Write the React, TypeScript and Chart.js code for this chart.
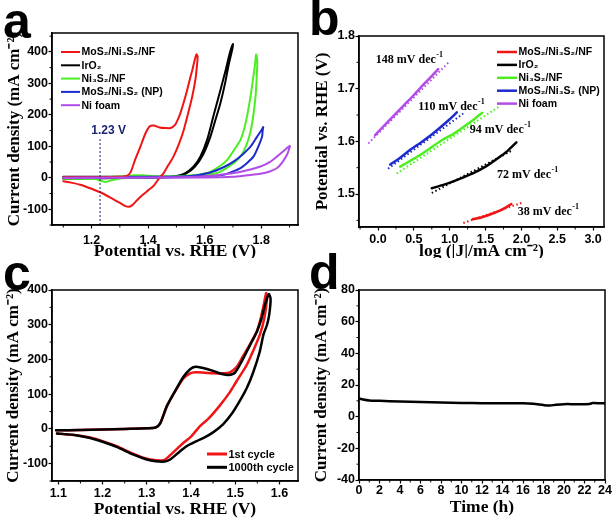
import React, { useEffect, useRef } from 'react';
import { Chart, registerables } from 'chart.js';
Chart.register(...registerables);

// ---------- Panel a: CV curves (Potential V vs RHE, current density mA cm-2)
const A_RED_V = [1.10, 1.20, 1.30, 1.325, 1.338, 1.355, 1.373, 1.39, 1.405, 1.42, 1.44, 1.46, 1.48, 1.495, 1.505, 1.515, 1.527, 1.538, 1.548, 1.557, 1.565, 1.571,
  1.575, 1.572, 1.567, 1.556, 1.54, 1.526, 1.51, 1.49, 1.47, 1.455, 1.44, 1.42, 1.40, 1.38, 1.36, 1.345, 1.332, 1.32, 1.30, 1.27, 1.24, 1.20, 1.16, 1.12, 1.10];
const A_RED_J = [2, 2, 3, 6, 18, 60, 100, 140, 163, 166, 160, 158, 158, 168, 185, 208, 243, 279, 315, 345, 375, 392,
  385, 350, 311, 258, 200, 152, 110, 68, 38, 15, 0, -25, -40, -55, -72, -86, -92, -90, -80, -65, -50, -35, -22, -14, -11];
const A_IRO2_V = [1.10, 1.30, 1.45, 1.50, 1.53, 1.56, 1.585, 1.61, 1.632, 1.65, 1.662, 1.675, 1.69, 1.70,
  1.698, 1.685, 1.672, 1.655, 1.64, 1.62, 1.595, 1.565, 1.535, 1.51, 1.45, 1.30, 1.10];
const A_IRO2_J = [3, 3, 3, 6, 14, 35, 68, 125, 200, 260, 300, 345, 400, 425,
  410, 360, 300, 235, 190, 130, 75, 35, 14, 6, 1, -1, -3];
const A_NI3S2_V = [1.10, 1.20, 1.30, 1.35, 1.38, 1.42, 1.50, 1.56, 1.609, 1.65, 1.68, 1.705, 1.727, 1.745, 1.762, 1.772, 1.778, 1.782,
  1.786, 1.784, 1.78, 1.773, 1.763, 1.75, 1.73, 1.703, 1.67, 1.644, 1.60, 1.55, 1.45, 1.35, 1.30, 1.27, 1.25, 1.235, 1.21, 1.15, 1.10];
const A_NI3S2_J = [2, 2, 4, 8, 8, 5, 5, 8, 15, 35, 57, 90, 121, 175, 258, 320, 360, 392,
  370, 320, 260, 205, 150, 110, 72, 47, 27, 15, 8, 4, 2, 0, -2, -8, -13, -10, -4, -3, -3];
const A_NP_V = [1.10, 1.40, 1.55, 1.62, 1.67, 1.703, 1.735, 1.762, 1.785, 1.80, 1.807,
  1.805, 1.803, 1.79, 1.773, 1.75, 1.727, 1.70, 1.67, 1.62, 1.50, 1.10];
const A_NP_J = [2, 3, 6, 17, 35, 52, 75, 99, 130, 150, 161,
  150, 131, 100, 68, 47, 31, 20, 10, 5, 2, 0];
const A_NIF_V = [1.10, 1.50, 1.60, 1.65, 1.703, 1.75, 1.797, 1.83, 1.856, 1.88, 1.901,
  1.898, 1.891, 1.875, 1.856, 1.83, 1.797, 1.75, 1.70, 1.60, 1.10];
const A_NIF_J = [0, 2, 5, 9, 15, 24, 36, 50, 68, 86, 101,
  90, 73, 50, 31, 20, 13, 8, 3, 1, -1];
const A_REF_V = [1.23, 1.23];
const A_REF_J = [-150, 128];
const A_X_MAJOR = [1.2, 1.4, 1.6, 1.8];
const A_X_MINOR = [1.1, 1.3, 1.5, 1.7, 1.9];
const A_Y_MAJOR = [-100, 0, 100, 200, 300, 400];
const A_Y_MINOR = [-150, -50, 50, 150, 250, 350, 450];

// ---------- Panel b: Tafel plots (log J vs potential)
const B_RED_LOGJ = [1.32, 1.45, 1.6, 1.75, 1.86];
const B_RED_V = [1.452, 1.456, 1.463, 1.472, 1.481];
const B_RED_FIT_LOGJ = [1.19, 2.0];
const B_RED_FIT_V = [1.445, 1.483];
const B_IRO2_LOGJ = [0.75, 0.9, 1.05, 1.2, 1.35, 1.5, 1.65, 1.8, 1.93];
const B_IRO2_V = [1.511, 1.517, 1.524, 1.532, 1.541, 1.552, 1.566, 1.581, 1.598];
const B_IRO2_FIT_LOGJ = [0.75, 1.86];
const B_IRO2_FIT_V = [1.502, 1.582];
const B_NI3S2_LOGJ = [0.31, 0.45, 0.6, 0.75, 0.9, 1.05, 1.2, 1.35, 1.45];
const B_NI3S2_V = [1.552, 1.563, 1.575, 1.589, 1.603, 1.614, 1.628, 1.643, 1.654];
const B_NI3S2_FIT_LOGJ = [0.26, 1.70];
const B_NI3S2_FIT_V = [1.539, 1.667];
const B_NP_LOGJ = [0.17, 0.3, 0.45, 0.6, 0.75, 0.9, 1.0, 1.1];
const B_NP_V = [1.556, 1.568, 1.584, 1.598, 1.613, 1.630, 1.642, 1.655];
const B_NP_FIT_LOGJ = [0.14, 1.19];
const B_NP_FIT_V = [1.548, 1.653];
const B_NIF_LOGJ = [-0.04, 0.1, 0.2, 0.35, 0.5, 0.65, 0.84];
const B_NIF_V = [1.612, 1.632, 1.646, 1.667, 1.688, 1.710, 1.737];
const B_NIF_FIT_LOGJ = [-0.135, 1.0];
const B_NIF_FIT_V = [1.596, 1.752];
const B_SLOPES = ['148', '110', '94', '72', '38'];
const B_X_MAJOR = [0, 0.5, 1.0, 1.5, 2.0, 2.5, 3.0];
const B_X_MINOR = [-0.25, 0.25, 0.75, 1.25, 1.75, 2.25, 2.75];
const B_Y_MAJOR = [1.5, 1.6, 1.7, 1.8];
const B_Y_MINOR = [1.45, 1.55, 1.65, 1.75];

// ---------- Panel c: 1st vs 1000th cycle
const C_FIRST_V = [1.095, 1.15, 1.20, 1.25, 1.30, 1.32, 1.33, 1.346, 1.368, 1.383, 1.398, 1.41, 1.43, 1.45, 1.47, 1.488, 1.503, 1.517, 1.533, 1.549, 1.558, 1.565, 1.57,
  1.572, 1.566, 1.556, 1.54, 1.526, 1.502, 1.488, 1.465, 1.44, 1.421, 1.40, 1.383, 1.367, 1.345, 1.335, 1.32, 1.30, 1.27, 1.232, 1.20, 1.172, 1.14, 1.097];
const C_FIRST_J = [-4, -3, -2, 0, 2, 4, 15, 67, 116, 145, 160, 163, 162, 160, 160, 163, 178, 208, 243, 281, 320, 360, 391,
  375, 320, 272, 223, 184, 135, 106, 67, 30, 9, -22, -40, -59, -85, -91, -90, -86, -72, -50, -35, -25, -18, -13];
const C_K_V = [1.095, 1.15, 1.20, 1.25, 1.30, 1.32, 1.33, 1.346, 1.368, 1.383, 1.398, 1.41, 1.425, 1.45, 1.47, 1.485, 1.50, 1.517, 1.533, 1.549, 1.56, 1.568, 1.576,
  1.58, 1.577, 1.572, 1.564, 1.555, 1.541, 1.527, 1.511, 1.493, 1.473, 1.45, 1.43, 1.413, 1.39, 1.37, 1.353, 1.34, 1.32, 1.30, 1.27, 1.232, 1.20, 1.172, 1.14, 1.097];
const C_K_J = [-4, -3, -2, 0, 2, 4, 15, 67, 118, 150, 172, 179, 176, 167, 158, 155, 163, 200, 240, 280, 320, 360, 388,
  375, 330, 300, 272, 220, 164, 120, 82, 45, 14, -10, -25, -35, -50, -70, -88, -94, -93, -88, -74, -52, -37, -26, -18, -13];
const C_X_MAJOR = [1.1, 1.2, 1.3, 1.4, 1.5, 1.6];
const C_X_MINOR = [1.15, 1.25, 1.35, 1.45, 1.55];
const C_Y_MAJOR = [-100, 0, 100, 200, 300, 400];
const C_Y_MINOR = [-150, -50, 50, 150, 250, 350];

// ---------- Panel d: stability
const D_T = [0, 0.4, 1, 2, 4, 6, 8, 10, 12, 14, 16, 17, 18, 18.6, 19.2, 20, 21, 22, 22.5, 22.8, 23.5, 24];
const D_J = [11.5, 10.8, 10.2, 10.0, 9.6, 9.2, 8.9, 8.7, 8.5, 8.4, 8.4, 8.1, 7.3, 7.0, 7.5, 7.9, 7.9, 7.9, 8.0, 8.6, 8.5, 8.4];
const D_X_MAJOR = [0, 2, 4, 6, 8, 10, 12, 14, 16, 18, 20, 22, 24];
const D_X_MINOR = [1, 3, 5, 7, 9, 11, 13, 15, 17, 19, 21, 23];
const D_Y_MAJOR = [-40, -20, 0, 20, 40, 60, 80];
const D_Y_MINOR = [-30, -10, 10, 30, 50, 70];

// ---------- styling
const RED = '#f01515';
const GREEN = '#4cee22';
const BLUE = '#1d2bcc';
const PURPLE = '#b24ce8';
const BLACK = '#000000';
const NAVY = '#1a2470';

const SANS = 'Arial, "Liberation Sans", Helvetica, sans-serif';
const SERIF = '"Times New Roman", "Liberation Serif", Times, serif';
const TICK_FONT = { family: SANS, size: 12.5, weight: 'bold' as const };
const XTITLE_FONT = { family: SERIF, size: 17.5, weight: 'bold' as const, lineHeight: 1 };
const YTITLE_FONT = { family: SERIF, size: 17, weight: 'bold' as const, lineHeight: 1 };

const pts = (xs: number[], ys: number[]) => xs.map((x, i) => ({ x, y: ys[i] }));

const framePlugin = {
  id: 'frame',
  afterDatasetsDraw(chart: any, _a: any, opts: any) {
    const { ctx, chartArea: a, scales } = chart;
    ctx.save();
    ctx.strokeStyle = '#000';
    ctx.lineWidth = 1.5;
    ctx.strokeRect(a.left, a.top, a.right - a.left, a.bottom - a.top);
    ctx.lineWidth = 1;
    (opts.xMinor || []).forEach((v: number) => {
      const px = scales.x.getPixelForValue(v);
      ctx.beginPath(); ctx.moveTo(px, a.bottom); ctx.lineTo(px, a.bottom + 2.5); ctx.stroke();
    });
    (opts.yMinor || []).forEach((v: number) => {
      const py = scales.y.getPixelForValue(v);
      ctx.beginPath(); ctx.moveTo(a.left, py); ctx.lineTo(a.left - 2.5, py); ctx.stroke();
    });
    const lg = opts.legend;
    if (lg) {
      ctx.textBaseline = 'middle';
      ctx.textAlign = 'left';
      ctx.font = `bold ${lg.size}px ${SANS}`;
      lg.items.forEach((it: any, i: number) => {
        const y = a.top + lg.y + i * lg.dy;
        const x = a.left + lg.x;
        ctx.strokeStyle = it.color;
        ctx.lineWidth = lg.lw;
        ctx.beginPath(); ctx.moveTo(x, y); ctx.lineTo(x + lg.len, y); ctx.stroke();
        ctx.fillStyle = '#000';
        ctx.fillText(it.label, x + lg.len + 1.5, y + 0.5);
      });
    }
    (opts.texts || []).forEach((t: any) => {
      const x = scales.x.getPixelForValue(t.x);
      const y = scales.y.getPixelForValue(t.y);
      ctx.textBaseline = 'middle';
      ctx.textAlign = 'left';
      ctx.fillStyle = t.color || '#000';
      ctx.font = `bold ${t.size}px ${t.family === 'sans' ? SANS : SERIF}`;
      ctx.fillText(t.main, x, y);
      if (t.sup) {
        const w = ctx.measureText(t.main).width;
        ctx.font = `bold ${Math.round(t.size * 0.65)}px ${SERIF}`;
        ctx.fillText(t.sup, x + w + 0.5, y - t.size * 0.42);
      }
    });
    ctx.restore();
  },
};

type AxisSpec = {
  min: number; max: number; major: number[]; minor: number[]; title: string;
  size: number; fmt: (v: number) => string; tickPad: number; titlePad: number;
};

function axis(o: AxisSpec, horizontal: boolean) {
  return {
    type: 'linear',
    min: o.min,
    max: o.max,
    afterBuildTicks: (s: any) => { s.ticks = o.major.map((v) => ({ value: v })); },
    afterFit: (s: any) => { if (horizontal) s.height = o.size; else s.width = o.size; },
    ticks: { font: TICK_FONT, color: '#000', padding: o.tickPad, maxRotation: 0, autoSkip: false, callback: (v: any) => o.fmt(Number(v)) },
    grid: { display: true, drawOnChartArea: false, drawTicks: true, tickLength: 3.5, tickColor: '#000', tickWidth: 1.2 },
    border: { display: true, color: '#000', width: 1.5 },
    title: {
      display: true, text: o.title, color: '#000', font: horizontal ? XTITLE_FONT : YTITLE_FONT,
      padding: horizontal ? { top: 0, bottom: o.titlePad } : { top: o.titlePad, bottom: 0 },
    },
  };
}

function line(data: { x: number; y: number }[], color: string, width: number, order: number, dash?: number[]) {
  return {
    data, borderColor: color, backgroundColor: color, borderWidth: width, order,
    showLine: true, pointRadius: 0, fill: false, tension: dash ? 0 : 0.25,
    borderDash: dash || [], borderJoinStyle: 'round', borderCapStyle: dash ? 'butt' : 'round',
  };
}

function baseConfig(datasets: any[], x: any, y: any, pad: any, frame: any) {
  return {
    type: 'scatter',
    data: { datasets },
    options: {
      responsive: false, animation: false, devicePixelRatio: 1, events: [],
      layout: { padding: pad },
      scales: { x, y },
      plugins: { legend: { display: false }, tooltip: { enabled: false }, frame },
    },
    plugins: [framePlugin],
  };
}

const f1 = (v: number) => v.toFixed(1);
const f0 = (v: number) => String(Math.round(v));
const YTITLE = 'Current density (mA cm\u207B\u00B2)';
const XTITLE = 'Potential vs. RHE (V)';

const LEGEND_AB = [
  { label: 'MoS\u2082/Ni\u2083S\u2082/NF', color: RED },
  { label: 'IrO\u2082', color: BLACK },
  { label: 'Ni\u2083S\u2082/NF', color: GREEN },
  { label: 'MoS\u2082/Ni\u2083S\u2082 (NP)', color: BLUE },
  { label: 'Ni foam', color: PURPLE },
];

const configA = () => baseConfig(
  [
    line(pts(A_REF_V, A_REF_J), NAVY, 1, 0, [2, 2]),
    line(pts(A_NIF_V, A_NIF_J), PURPLE, 2, 1),
    line(pts(A_RED_V, A_RED_J), RED, 2, 2),
    line(pts(A_NP_V, A_NP_J), BLUE, 2, 3),
    line(pts(A_NI3S2_V, A_NI3S2_J), GREEN, 2, 4),
    line(pts(A_IRO2_V, A_IRO2_J), BLACK, 2, 5),
  ],
  axis({ min: 1.06, max: 1.93, major: A_X_MAJOR, minor: A_X_MINOR, title: XTITLE, size: 33, fmt: f1, tickPad: 5, titlePad: -2 }, true),
  axis({ min: -150, max: 460, major: A_Y_MAJOR, minor: A_Y_MINOR, title: YTITLE, size: 52, fmt: f0, tickPad: 0.5, titlePad: 6 }, false),
  { top: 33, right: 9, left: 0, bottom: 0 },
  {
    xMinor: A_X_MINOR, yMinor: A_Y_MINOR,
    legend: { x: 9, y: 19, dy: 13.3, len: 19, lw: 2, size: 10.5, items: LEGEND_AB },
    texts: [{ x: 1.199, y: 149, main: '1.23 V', size: 12, family: 'sans', color: NAVY }],
  },
);

const configB = () => baseConfig(
  [
    line(pts(B_NIF_LOGJ, B_NIF_V), PURPLE, 2.5, 1),
    line(pts(B_NP_LOGJ, B_NP_V), BLUE, 2.5, 2),
    line(pts(B_NI3S2_LOGJ, B_NI3S2_V), GREEN, 2.5, 3),
    line(pts(B_IRO2_LOGJ, B_IRO2_V), BLACK, 2.5, 4),
    line(pts(B_RED_LOGJ, B_RED_V), RED, 2.5, 5),
    line(pts(B_NIF_FIT_LOGJ, B_NIF_FIT_V), PURPLE, 2, 6, [1.5, 2.5]),
    line(pts(B_NP_FIT_LOGJ, B_NP_FIT_V), BLUE, 2, 7, [1.5, 2.5]),
    line(pts(B_NI3S2_FIT_LOGJ, B_NI3S2_FIT_V), GREEN, 2, 8, [1.5, 2.5]),
    line(pts(B_IRO2_FIT_LOGJ, B_IRO2_FIT_V), BLACK, 2, 9, [1.5, 2.5]),
    line(pts(B_RED_FIT_LOGJ, B_RED_FIT_V), RED, 2, 10, [1.5, 2.5]),
  ],
  axis({ min: -0.265, max: 3.152, major: B_X_MAJOR, minor: B_X_MINOR, title: 'log (|J|/mA cm\u207B\u00B2)', size: 31, fmt: f1, tickPad: 2, titlePad: -2 }, true),
  axis({ min: 1.4374, max: 1.8, major: B_Y_MAJOR, minor: B_Y_MINOR, title: XTITLE, size: 52, fmt: f1, tickPad: 0.5, titlePad: 7 }, false),
  { top: 36, right: 10, left: 0, bottom: 0 },
  {
    xMinor: B_X_MINOR, yMinor: B_Y_MINOR,
    legend: { x: 138, y: 16, dy: 12.9, len: 20, lw: 2.5, size: 10.5, items: LEGEND_AB },
    texts: [
      { x: -0.03, y: 1.754, main: `${B_SLOPES[0]} mV dec`, sup: '-1', size: 12 },
      { x: 0.56, y: 1.665, main: `${B_SLOPES[1]} mV dec`, sup: '-1', size: 12 },
      { x: 1.28, y: 1.621, main: `${B_SLOPES[2]} mV dec`, sup: '-1', size: 12 },
      { x: 1.66, y: 1.536, main: `${B_SLOPES[3]} mV dec`, sup: '-1', size: 12 },
      { x: 1.95, y: 1.466, main: `${B_SLOPES[4]} mV dec`, sup: '-1', size: 12 },
    ],
  },
);

const configC = () => baseConfig(
  [
    line(pts(C_K_V, C_K_J), BLACK, 2.5, 0),
    line(pts(C_FIRST_V, C_FIRST_J), RED, 2.5, 1),
  ],
  axis({ min: 1.0857, max: 1.642, major: C_X_MAJOR, minor: C_X_MINOR, title: XTITLE, size: 37, fmt: f1, tickPad: 1.5, titlePad: 0 }, true),
  axis({ min: -150, max: 400, major: C_Y_MAJOR, minor: C_Y_MINOR, title: YTITLE, size: 52, fmt: f0, tickPad: 0.5, titlePad: 5 }, false),
  { top: 32, right: 9, left: 0, bottom: 0 },
  {
    xMinor: C_X_MINOR, yMinor: C_Y_MINOR,
    legend: {
      x: 155, y: 164, dy: 13.3, len: 20, lw: 3, size: 11,
      items: [
        { label: '1st cycle', color: RED },
        { label: '1000th cycle', color: BLACK },
      ],
    },
  },
);

const configD = () => baseConfig(
  [line(pts(D_T, D_J), BLACK, 2.5, 0)],
  axis({ min: 0, max: 24, major: D_X_MAJOR, minor: D_X_MINOR, title: 'Time (h)', size: 38, fmt: f0, tickPad: 0, titlePad: 2 }, true),
  axis({ min: -40, max: 80, major: D_Y_MAJOR, minor: D_Y_MINOR, title: YTITLE, size: 52, fmt: f0, tickPad: 0.5, titlePad: 6 }, false),
  { top: 32, right: 9, left: 0, bottom: 0 },
  { xMinor: D_X_MINOR, yMinor: D_Y_MINOR },
);

function Panel({ left, top, width, height, make }: { left: number; top: number; width: number; height: number; make: () => any }) {
  const ref = useRef<HTMLCanvasElement>(null);
  useEffect(() => {
    const chart = new Chart(ref.current as HTMLCanvasElement, make());
    return () => chart.destroy();
  }, []);
  return (
    <canvas ref={ref} width={width} height={height}
      style={{ position: 'absolute', left, top, width, height, display: 'block' }} />
  );
}

const letterStyle = (left: number, top: number): React.CSSProperties => ({
  position: 'absolute', left, top, fontFamily: SANS, fontWeight: 'bold', fontSize: 50,
  lineHeight: '50px', color: '#000', margin: 0,
});

export default function App() {
  return (
    <div style={{ position: 'fixed', left: 0, top: 0, width: 614, height: 518, background: '#fff', overflow: 'hidden' }}>
      <Panel left={0} top={0} width={307} height={258} make={configA} />
      <Panel left={307} top={0} width={307} height={258} make={configB} />
      <Panel left={0} top={258} width={307} height={260} make={configC} />
      <Panel left={307} top={258} width={307} height={260} make={configD} />
      <div style={letterStyle(3, -4)}>a</div>
      <div style={letterStyle(309, -7)}>b</div>
      <div style={letterStyle(3, 248)}>c</div>
      <div style={letterStyle(309, 247)}>d</div>
    </div>
  );
}
